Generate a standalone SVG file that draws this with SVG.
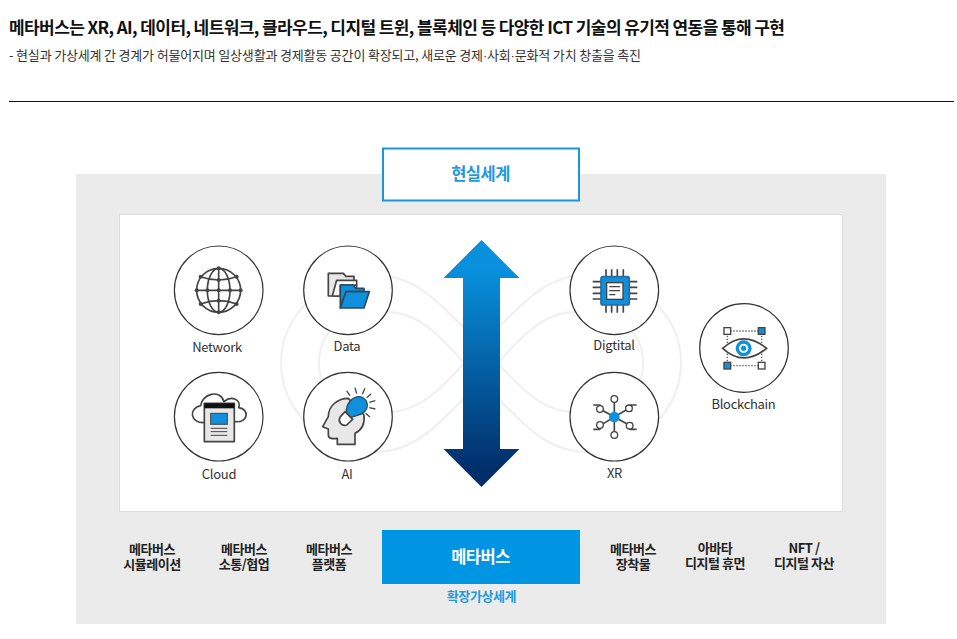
<svg xmlns="http://www.w3.org/2000/svg" width="957" height="639" viewBox="0 0 957 639">
<style>
text{font-family:"Noto Sans CJK KR","Noto Sans",sans-serif;text-anchor:middle}
.t{font-size:17px;font-weight:700;fill:#111;text-anchor:start}
.s{font-size:13px;fill:#333;text-anchor:start}
.dot{font-family:"Liberation Sans",sans-serif}
.l{font-size:13px;fill:#333;letter-spacing:-.3px}
.b{font-size:13px;font-weight:700;fill:#222;letter-spacing:-.45px}
.c{fill:#fff;stroke:#333;stroke-width:1.2}
.bg{fill:none;stroke:#efefef;stroke-width:2}
.i{stroke:#444;stroke-width:5;fill:none;stroke-linejoin:round}
.g{fill:#e8e8e8}
.bl{fill:#0f8fdc}
</style>
<defs>
<linearGradient id="ag" gradientUnits="userSpaceOnUse" x1="0" y1="240" x2="0" y2="487">
<stop offset="0.12" stop-color="#0890dc"/><stop offset="0.92" stop-color="#012f6b"/>
</linearGradient>
</defs>
<rect width="957" height="639" fill="#fff"/>
<g id="header">
<text class="t" x="9" y="34" textLength="776" lengthAdjust="spacing">메타버스는 XR, AI, 데이터, 네트워크, 클라우드, 디지털 트윈, 블록체인 등 다양한 ICT 기술의 유기적 연동을 통해 구현</text>
<text class="s" x="9" y="60" textLength="632" lengthAdjust="spacing">- 현실과 가상세계 간 경계가 허물어지며 일상생활과 경제활동 공간이 확장되고, 새로운 경제<tspan class="dot">·</tspan>사회<tspan class="dot">·</tspan>문화적 가치 창출을 촉진</text>
<rect x="9" y="101" width="945" height="1" fill="#111"/>
</g>
<g id="panels">
<rect x="76" y="174" width="810" height="450" fill="#ebebeb"/>
<rect x="119.500" y="214.500" width="723" height="297" fill="#fff" stroke="#ddd"/>
<path class="bg" d="M281,363C281,310 330,275 375,275C420,275 445,310 481,345C510,375 535,412 575,412C620,412 643,395 643,363"/>
<path class="bg" d="M281,363C281,416 330,452 375,452C420,452 445,416 481,381C510,352 535,312 575,312C620,312 643,331 643,363"/>
<path class="bg" d="M681,363C681,310 632,275 587,275C542,275 517,310 481,345C452,375 427,412 387,412C342,412 319,395 319,363"/>
<path class="bg" d="M681,363C681,416 632,452 587,452C542,452 517,416 481,381C452,352 427,312 387,312C342,312 319,331 319,363"/>
</g>
<g id="connectors">
<path fill="url(#ag)" d="M481.500,240L519.500,278H500V449H519.500L481.500,487L443.500,449H463V278H443.500Z"/>
</g>
<g id="real-world">
<rect x="383" y="148.500" width="196" height="52" fill="#fff" stroke="#1a96dc" stroke-width="2"/>
<text x="480.500" y="180" font-size="16.500" font-weight="700" fill="#1d9ae0" letter-spacing="-.5">현실세계</text>
</g>
<g id="node-network">
<circle class="c" cx="218.700" cy="290.300" r="44.300"/>
<g transform="translate(160 235) scale(.3333)">
<g class="i"><circle cx="176" cy="166" r="66"/><ellipse cx="176" cy="166" rx="34" ry="66"/><path d="M176,100V232M110,166H242M122,125Q176,145 230,125M122,207Q176,187 230,207"/></g>
<g fill="#444"><circle cx="176" cy="100" r="6"/><circle cx="176" cy="232" r="6"/><circle cx="110" cy="166" r="6"/><circle cx="242" cy="166" r="6"/><circle cx="176" cy="166" r="6"/><circle cx="122" cy="125" r="6"/><circle cx="230" cy="125" r="6"/><circle cx="122" cy="207" r="6"/><circle cx="230" cy="207" r="6"/><circle cx="176" cy="135" r="6"/><circle cx="176" cy="197" r="6"/><circle cx="142" cy="166" r="6"/><circle cx="210" cy="166" r="6"/></g>
</g>
<text class="l" x="217" y="352">Network</text>
</g>
<g id="node-data">
<circle class="c" cx="348" cy="290.300" r="44.300"/>
<g transform="translate(160 235) scale(.3333)">
<path class="i g" d="M505,115H550L558,124H582V150H590V183H505Z"/>
<path class="i" style="fill:#fff" d="M517,183L530,136H590V150H541V183Z"/>
<path fill="#0f8fdc" stroke="#2b4a60" stroke-width="5" stroke-linejoin="round" d="M541,150H578L588,160H612V170H558L541,219Z"/>
<path fill="#0f8fdc" stroke="#2b4a60" stroke-width="5" stroke-linejoin="round" d="M558,170H628L612,219H541Z"/>
</g>
<text class="l" x="347" y="351">Data</text>
</g>
<g id="node-cloud">
<circle class="c" cx="218.700" cy="416.700" r="44.300"/>
<g transform="translate(160 235) scale(.3333)">
<path class="i" d="M133,563C90,565 85,520 122,512C125,478 180,460 192,500C215,480 245,495 236,518C270,522 265,565 225,560"/>
<rect class="i g" x="133" y="505" width="90" height="115"/>
<rect x="133" y="505" width="90" height="15" fill="#111"/>
<rect x="152" y="535" width="50" height="33" fill="#0f8fdc" stroke="#444" stroke-width="3"/>
<path class="i" d="M152,580H202M152,590H202M152,601H202" style="stroke-width:3"/>
</g>
<text class="l" x="219" y="479">Cloud</text>
</g>
<g id="node-ai">
<circle class="c" cx="348" cy="416.700" r="44.300"/>
<g transform="translate(160 235) scale(.3333)">
<path class="i g" d="M565,490C530,490 505,515 505,545L488,575L505,582V600C505,612 520,612 532,610V628H585V595C605,585 615,565 612,540Z"/>
<path class="bl" stroke="#2b4a60" stroke-width="4" d="M560,535C555,505 580,483 600,485C622,490 630,515 612,532C600,543 585,540 572,548Z"/>
<path fill="#fff" stroke="#444" stroke-width="5" d="M555,530L578,553L560,570C545,575 533,560 540,547Z"/>
<path class="i" style="stroke-width:4" d="M560,468L570,482M585,458L590,476M615,460L607,478M633,477L620,488M646,497L628,502M646,522L628,518M630,546L617,535"/>
</g>
<text class="l" x="347" y="479">AI</text>
</g>
<g id="node-digital">
<circle class="c" cx="614.300" cy="290.300" r="44.300"/>
<g transform="translate(430 235) scale(.3333)">
<path class="i" d="M528,103V233M545,103V233M562,103V233M580,103V233M488,140H622M488,157H622M488,175H622M488,192H622"/>
<rect x="513" y="125" width="85" height="85" rx="6" fill="#0f8fdc" stroke="#2b6a9c" stroke-width="5"/>
<rect x="530" y="143" width="49" height="50" fill="#fff" stroke="#444" stroke-width="4"/>
<path class="i" style="stroke-width:4" d="M538,155H570M538,167H570M538,179H556"/>
</g>
<text class="l" x="614" y="350">Digtital</text>
</g>
<g id="node-xr">
<circle class="c" cx="614.300" cy="416.700" r="44.300"/>
<g transform="translate(430 235) scale(.3333)">
<path class="i" d="M553,492V600M510,522L597,570M597,520L510,572M490,510H510L505,530M620,510H600L605,530M490,583H510L505,562M620,583H600L605,562"/>
<g fill="#fff" stroke="#444" stroke-width="4"><circle cx="553" cy="492" r="10"/><circle cx="553" cy="600" r="10"/><circle cx="510" cy="522" r="10"/><circle cx="597" cy="520" r="10"/><circle cx="510" cy="570" r="10"/><circle cx="599" cy="572" r="10"/></g>
<circle cx="553" cy="546" r="16" fill="#0f8fdc"/>
</g>
<text class="l" x="614.500" y="478">XR</text>
</g>
<g id="node-blockchain">
<circle class="c" cx="744" cy="348" r="44.300"/>
<g transform="translate(430 235) scale(.3333)">
<path fill="none" stroke="#555" stroke-width="4" stroke-dasharray="4 5" d="M892,288H995V392H892Z"/>
<path fill="#fff" stroke="#444" stroke-width="5" d="M878,340Q940,283 1010,340Q940,397 878,340Z"/>
<circle cx="941" cy="340" r="24" fill="#0f8fdc"/><circle cx="941" cy="340" r="14" fill="#fff"/><circle cx="941" cy="340" r="8" fill="#0f8fdc"/>
<g stroke="#444" stroke-width="4"><rect x="882" y="278" width="20" height="20" fill="#fff"/><rect x="985" y="278" width="20" height="20" fill="#0f8fdc"/><rect x="882" y="382" width="20" height="20" fill="#0f8fdc"/><rect x="985" y="382" width="20" height="20" fill="#fff"/></g>
</g>
<text class="l" x="743.500" y="409">Blockchain</text>
</g>
<g id="metaverse">
<rect x="382" y="530" width="198" height="54" fill="#0095e3"/>
<text x="480.500" y="563" font-size="16.500" font-weight="700" fill="#fff" letter-spacing="-.5">메타버스</text>
<text x="481.500" y="601" font-size="13" font-weight="700" fill="#1d9ae0" letter-spacing="-.4">확장가상세계</text>
</g>
<g id="label-sim"><text class="b" x="152" y="554">메타버스<tspan x="152" dy="15">시뮬레이션</tspan></text></g>
<g id="label-comm"><text class="b" x="244" y="554">메타버스<tspan x="244" dy="15">소통/협업</tspan></text></g>
<g id="label-platform"><text class="b" x="329" y="554">메타버스<tspan x="329" dy="15">플랫폼</tspan></text></g>
<g id="label-device"><text class="b" x="633" y="554">메타버스<tspan x="633" dy="15">장착물</tspan></text></g>
<g id="label-avatar"><text class="b" x="715" y="553">아바타<tspan x="715" dy="15">디지털 휴먼</tspan></text></g>
<g id="label-nft"><text class="b" x="804" y="553">NFT /<tspan x="804" dy="15">디지털 자산</tspan></text></g>
</svg>
